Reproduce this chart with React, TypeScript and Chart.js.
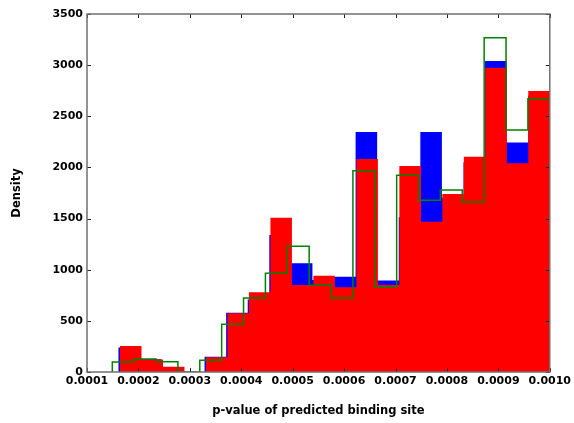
import React, { useEffect, useRef } from 'react';
import { Chart, registerables } from 'chart.js';

Chart.register(...registerables);

// Axis ranges and ticks
const X_MIN = 0.0001;
const X_MAX = 0.001;
const X_STEP = 0.0001;
const Y_MIN = 0;
const Y_MAX = 3500;
const Y_STEP = 500;

// Histogram bin ranges (20 equal bins each, ending at 0.0010)
const blueRange = [0.0001608, 0.001];
const redRange = [0.0001642, 0.001];
const greenRange = [0.0001492, 0.001];

// Bin heights (density)
const blueValues = [240, 125, 50, 0, 150, 580, 710, 1340, 1063, 900, 932, 2346, 895, 1512, 2346, 1700, 2050, 3040, 2243, 2700];
const redValues = [254, 122, 52, 0, 144, 574, 779, 1509, 851, 940, 828, 2082, 851, 2014, 1470, 1740, 2105, 2975, 2040, 2747];
const greenValues = [98, 128, 100, 0, 115, 466, 723, 965, 1229, 848, 723, 1968, 834, 1923, 1679, 1779, 1662, 3268, 2366, 2672];

const xTitle = 'p-value of predicted binding site';
const yTitle = 'Density';

function histPoints(range: number[], values: number[]) {
  const [start, end] = range;
  const w = (end - start) / values.length;
  const pts: { x: number; y: number }[] = [{ x: start, y: 0 }];
  values.forEach((v, i) => pts.push({ x: start + i * w, y: v }));
  pts.push({ x: end, y: 0 });
  return pts;
}

const framePlugin = {
  id: 'frameTicks',
  afterDraw(chart: any) {
    const { ctx, chartArea, scales } = chart;
    const { left, right, top, bottom } = chartArea;
    const xs = scales.x;
    const ys = scales.y;
    const len = 4;
    ctx.save();
    ctx.strokeStyle = '#222';
    ctx.lineWidth = 1;
    ctx.beginPath();
    xs.ticks.forEach((t: any) => {
      const px = Math.round(xs.getPixelForValue(t.value)) + 0.5;
      ctx.moveTo(px, bottom);
      ctx.lineTo(px, bottom - len);
      ctx.moveTo(px, top);
      ctx.lineTo(px, top + len);
    });
    ys.ticks.forEach((t: any) => {
      const py = Math.round(ys.getPixelForValue(t.value)) + 0.5;
      ctx.moveTo(left, py);
      ctx.lineTo(left + len, py);
      ctx.moveTo(right, py);
      ctx.lineTo(right - len, py);
    });
    ctx.stroke();
    ctx.strokeStyle = '#707070';
    ctx.lineWidth = 1.5;
    ctx.strokeRect(left, top, right - left, bottom - top);
    ctx.restore();
  },
};

export default function App() {
  const canvasRef = useRef<HTMLCanvasElement | null>(null);

  useEffect(() => {
    if (!canvasRef.current) return;
    const tickFont = { family: 'DejaVu Sans', size: 11, weight: 'bold' as const };
    const titleFont = { family: 'DejaVu Sans', size: 11.5, weight: 'bold' as const };
    const chart = new Chart(canvasRef.current, {
      type: 'line',
      data: {
        datasets: [
          {
            label: 'green',
            data: histPoints(greenRange, greenValues),
            stepped: 'before',
            borderColor: 'rgb(0,128,0)',
            borderWidth: 1.5,
            fill: false,
            pointRadius: 0,
            order: 0,
          },
          {
            label: 'red',
            data: histPoints(redRange, redValues),
            stepped: 'before',
            borderColor: 'rgba(0,0,0,0)',
            borderWidth: 0.01,
            backgroundColor: '#ff0000',
            fill: 'origin',
            pointRadius: 0,
            order: 1,
          },
          {
            label: 'blue',
            data: histPoints(blueRange, blueValues),
            stepped: 'before',
            borderColor: 'rgba(0,0,0,0)',
            borderWidth: 0.01,
            backgroundColor: '#0000ff',
            fill: 'origin',
            pointRadius: 0,
            order: 2,
          },
        ],
      },
      options: {
        animation: false,
        responsive: false,
        events: [],
        layout: { padding: { top: 14, right: 24, bottom: 0, left: 0 } },
        plugins: {
          legend: { display: false },
          tooltip: { enabled: false },
        },
        scales: {
          x: {
            type: 'linear',
            min: X_MIN,
            max: X_MAX,
            grid: { display: false, drawTicks: false },
            border: { display: false },
            ticks: {
              stepSize: X_STEP,
              autoSkip: false,
              maxRotation: 0,
              padding: 3,
              color: '#000',
              font: tickFont,
              callback: (v: any) => Number(v).toFixed(4),
            },
            title: {
              display: true,
              text: xTitle,
              color: '#000',
              font: titleFont,
              padding: { top: 0, bottom: 5 },
            },
            afterFit: (s: any) => {
              s.height = 51;
            },
          },
          y: {
            type: 'linear',
            min: Y_MIN,
            max: Y_MAX,
            grid: { display: false, drawTicks: false },
            border: { display: false },
            ticks: {
              stepSize: Y_STEP,
              padding: 4,
              color: '#000',
              font: tickFont,
              callback: (v: any) => String(Math.round(Number(v))),
            },
            title: {
              display: true,
              text: yTitle,
              color: '#000',
              font: titleFont,
              padding: { top: 10.5, bottom: 0 },
            },
            afterFit: (s: any) => {
              s.width = 87;
            },
          },
        },
      },
      plugins: [framePlugin],
    });
    return () => chart.destroy();
  }, []);

  return (
    <div style={{ position: 'absolute', left: 0, top: 0, width: 574, height: 423, background: '#fff' }}>
      <canvas ref={canvasRef} width={574} height={423} style={{ display: 'block' }} />
    </div>
  );
}
